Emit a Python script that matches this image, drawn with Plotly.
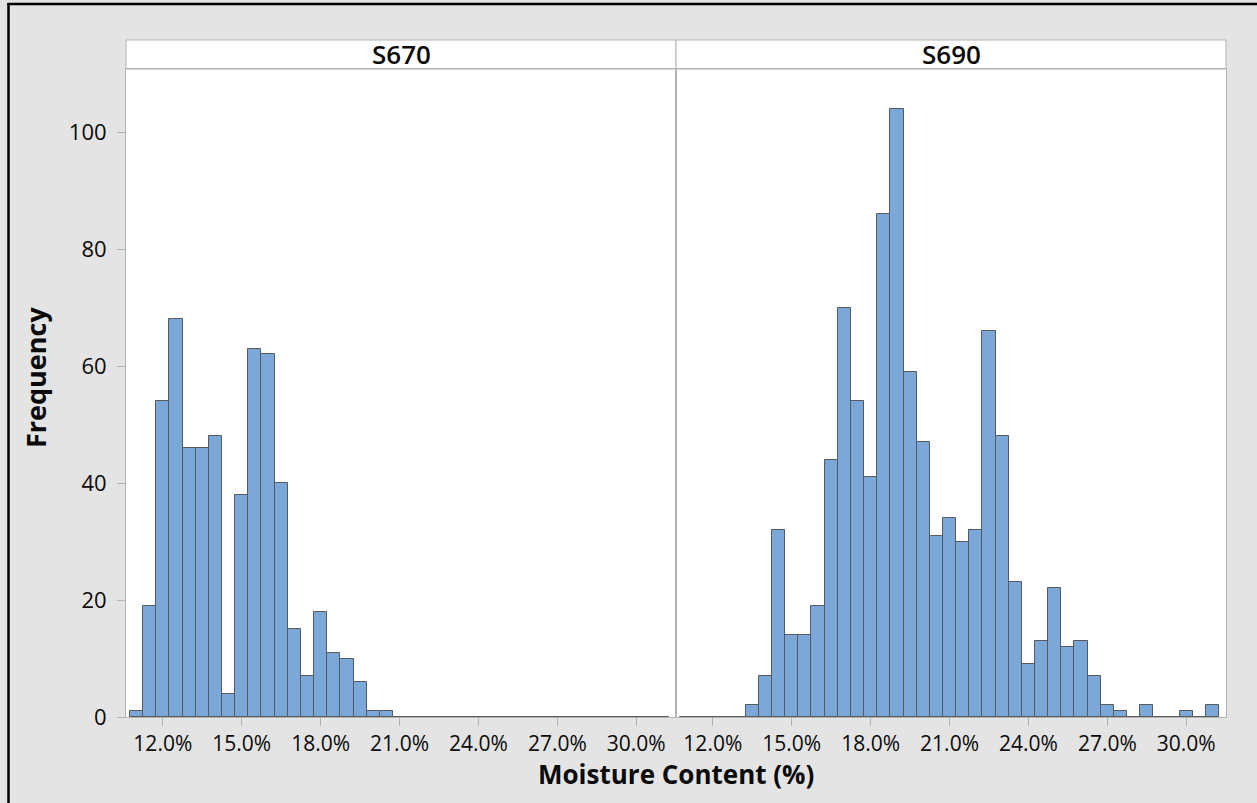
import plotly.graph_objects as go
from plotly.subplots import make_subplots

# ---- data ----
bin_centers = [11.0, 11.5, 12.0, 12.5, 13.0, 13.5, 14.0, 14.5, 15.0, 15.5,
               16.0, 16.5, 17.0, 17.5, 18.0, 18.5, 19.0, 19.5, 20.0, 20.5,
               21.0, 21.5, 22.0, 22.5, 23.0, 23.5, 24.0, 24.5, 25.0, 25.5,
               26.0, 26.5, 27.0, 27.5, 28.0, 28.5, 29.0, 29.5, 30.0, 30.5, 31.0]
s670_counts = [1, 19, 54, 68, 46, 46, 48, 4, 38, 63,
               62, 40, 15, 7, 18, 11, 10, 6, 1, 1,
               0, 0, 0, 0, 0, 0, 0, 0, 0, 0,
               0, 0, 0, 0, 0, 0, 0, 0, 0, 0, 0]
s690_counts = [0, 0, 0, 0, 0, 2, 7, 32, 14, 14,
               19, 44, 70, 54, 41, 86, 104, 59, 47, 31,
               34, 30, 32, 66, 48, 23, 9, 13, 22, 12,
               13, 7, 2, 1, 0, 2, 0, 0, 1, 0, 2]

panel_titles = ["S670", "S690"]
x_tickvals = [12, 15, 18, 21, 24, 27, 30]
x_ticktext = ["12.0%", "15.0%", "18.0%", "21.0%", "24.0%", "27.0%", "30.0%"]
y_tickvals = [0, 20, 40, 60, 80, 100]

BAR = "#7ba7d9"
EDGE = "#555a60"
GRID = "#b4b4b4"
BG = "#e4e4e4"
FONT = "Open Sans"
TXT = "#0a0a0a"

fig = make_subplots(rows=1, cols=2, shared_yaxes=True, horizontal_spacing=0)

for i, cy in enumerate([s670_counts, s690_counts]):
    fig.add_trace(go.Bar(x=bin_centers, y=cy, width=0.5,
                         marker=dict(color=BAR, line=dict(color=EDGE, width=1)),
                         showlegend=False), row=1, col=i + 1)

xr = [10.6, 31.51]
for c in (1, 2):
    fig.update_xaxes(range=xr, tickvals=x_tickvals, ticktext=x_ticktext, ticks="outside",
                     ticklen=8, tickcolor=GRID, showgrid=False, zeroline=False,
                     showline=True, linecolor=GRID, mirror=True,
                     tickfont=dict(family=FONT, size=21, color=TXT), row=1, col=c)
fig.update_yaxes(range=[0, 110.8], tickvals=y_tickvals, ticks="outside", ticklen=8, tickcolor=GRID,
                 showgrid=False, zeroline=False, showline=True, linecolor=GRID, mirror=True,
                 ticklabelstandoff=6,
                 tickfont=dict(family=FONT, size=22, color=TXT), row=1, col=1)
fig.update_yaxes(showticklabels=False, ticks="", showgrid=False, zeroline=False,
                 showline=True, linecolor=GRID, mirror=True, row=1, col=2)

W, H = 1257, 803
L, R, T, B = 126, 31, 69, 86
pw, ph = W - L - R, H - T - B
strip_h = 29 / ph
BOT = H - B  # pixel row of plot bottom


def py(p):
    return (BOT - p) / ph


def px(p):
    return (p - L) / pw


shapes = []
annotations = []
for i, t in enumerate(panel_titles):
    x0, x1 = i * 0.5, (i + 1) * 0.5
    shapes.append(dict(type="rect", xref="paper", yref="paper", x0=x0, x1=x1, y0=1, y1=1 + strip_h,
                       fillcolor="white", line=dict(color=GRID, width=1), layer="below"))
    annotations.append(dict(text=t, xref="paper", yref="paper", x=(x0 + x1) / 2, y=1 + strip_h / 2,
                            xanchor="center", yanchor="middle", showarrow=False,
                            font=dict(family=FONT, size=26, color=TXT, weight=600)))

# outer frame (left and top edges visible)
shapes.append(dict(type="line", xref="paper", yref="paper", x0=px(8.5), x1=px(8.5),
                   y0=py(3), y1=py(H + 5), line=dict(color="black", width=2.5)))
shapes.append(dict(type="line", xref="paper", yref="paper", x0=px(7.5), x1=px(W + 5),
                   y0=py(4), y1=py(4), line=dict(color="black", width=2.5)))

annotations.append(dict(text="Moisture Content (%)", xref="paper", yref="paper", x=0.5,
                        y=py(774), xanchor="center", yanchor="middle", showarrow=False,
                        font=dict(family=FONT, size=26, color=TXT, weight="bold")))
annotations.append(dict(text="Frequency", xref="paper", yref="paper", x=px(35),
                        y=py(378), xanchor="center", yanchor="middle", showarrow=False,
                        textangle=-90,
                        font=dict(family=FONT, size=27, color=TXT, weight="bold")))

fig.update_layout(width=W, height=H, margin=dict(l=L, r=R, t=T, b=B),
                  paper_bgcolor=BG, plot_bgcolor="white", bargap=0,
                  shapes=shapes, annotations=annotations)

fig.write_html("out.html")
